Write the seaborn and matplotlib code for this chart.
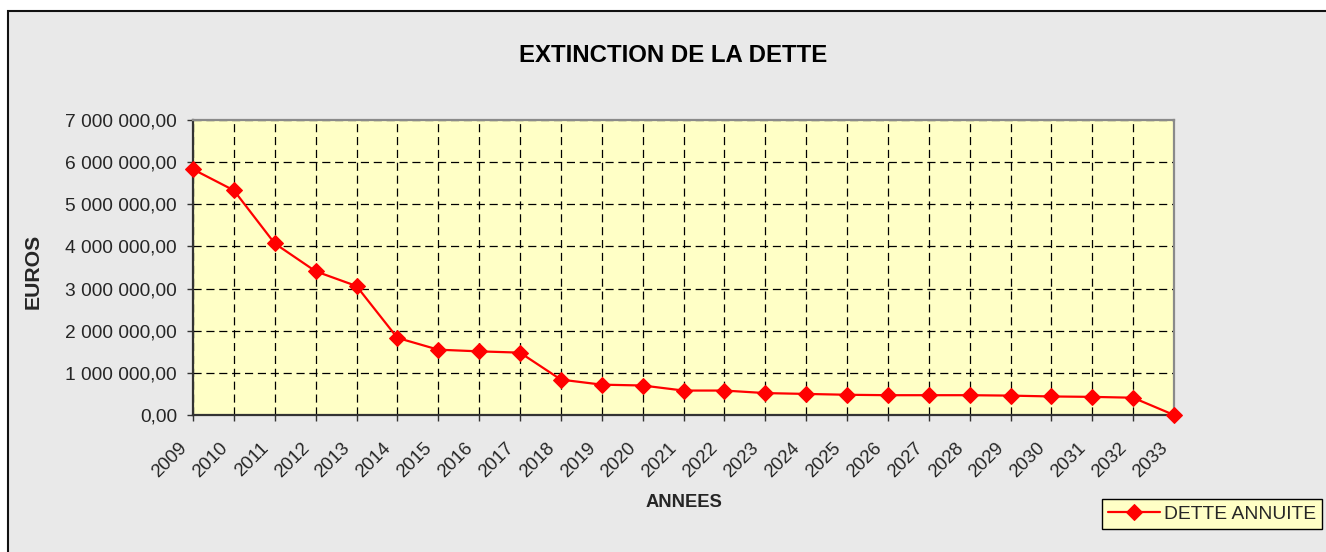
import numpy as np
import pandas as pd
import matplotlib
matplotlib.use("Agg")
import matplotlib.pyplot as plt
from matplotlib.ticker import FuncFormatter, MultipleLocator
from matplotlib.patches import Rectangle
from matplotlib.transforms import ScaledTranslation
import seaborn as sns

# ---- data ----
years = list(range(2009, 2034))
dette = [5830000, 5330000, 4070000, 3410000, 3060000, 1830000, 1550000, 1510000,
         1480000, 840000, 720000, 700000, 580000, 580000, 520000, 500000, 480000,
         470000, 470000, 470000, 460000, 440000, 430000, 410000, 0]
series_name = "DETTE ANNUITE"
title = "EXTINCTION DE LA DETTE"
xlabel = "ANNEES"
ylabel = "EUROS"

df = pd.DataFrame({"annee": years, "valeur": dette})

sns.set_theme(style="white")
plt.rcParams["font.family"] = ["Liberation Sans", "DejaVu Sans"]

W, H = 1326, 552
fig = plt.figure(figsize=(W / 100, H / 100), dpi=100)
fig.patch.set_facecolor("white")

# chart area background with black frame
bg = Rectangle((8 / W, -0.05), 1.2, 1 - 11 / H + 0.05, transform=fig.transFigure,
               facecolor="#E9E9E9", edgecolor="#111111", linewidth=1.5, zorder=-10)
fig.patches.append(bg)

left, right = 193 / W, 1174 / W
bottom, top = 1 - 415 / H, 1 - 120 / H
ax = fig.add_axes([left, bottom, right - left, top - bottom])
ax.set_facecolor("#FFFFC6")

sns.lineplot(data=df, x="annee", y="valeur", ax=ax, color="#FF0000", linewidth=1.6,
             marker="D", markersize=8, markeredgecolor="#FF0000", label=series_name,
             clip_on=False, zorder=5)

ax.set_xlim(2009, 2033)
ax.set_ylim(0, 7000000)
ax.set_xticks(years)
ax.set_xticklabels([str(y) for y in years], rotation=45, ha="right",
                   rotation_mode="anchor", fontsize=13.4)
ax.yaxis.set_major_locator(MultipleLocator(1000000))

def fmt(v, pos):
    return f"{v:,.2f}".replace(",", " ").replace(".", ",")

ax.yaxis.set_major_formatter(FuncFormatter(fmt))
ax.tick_params(axis="y", labelsize=13.8, length=4.5, width=1, color="#333333",
               direction="out", left=True, pad=7)
ax.tick_params(axis="x", labelsize=13.4, length=4.5, width=1, color="#333333",
               direction="out", bottom=True, pad=13)
shift = ScaledTranslation(-15 / 100, 0, fig.dpi_scale_trans)
for lab in ax.get_xticklabels():
    lab.set_transform(lab.get_transform() + shift)

ax.grid(True, which="major", axis="both", color="black", linestyle=(0, (6.5, 3.8)),
        linewidth=0.9)
ax.set_axisbelow(True)

for s in ["left", "bottom"]:
    ax.spines[s].set_color("#333333")
    ax.spines[s].set_linewidth(1.6)
for s in ["top", "right"]:
    ax.spines[s].set_color("#8a8a8a")
    ax.spines[s].set_linewidth(1.6)
    ax.spines[s].set_visible(True)

ax.set_xlabel(xlabel, fontsize=13.2, fontweight="bold")
ax.set_ylabel(ylabel, fontsize=15.3, fontweight="bold")
ax.xaxis.set_label_coords((684 / W - left) / (right - left), (1 - 494 / H - bottom) / (top - bottom))
ax.yaxis.set_label_coords((43 / W - left) / (right - left), (1 - 271.5 / H - bottom) / (top - bottom))

fig.text(673 / W, 1 - 55 / H, title, ha="center", va="center", fontsize=17.3,
         fontweight="bold", color="black")

ax.get_legend().remove()
leg = fig.legend(loc="upper right", bbox_to_anchor=(1322 / W, 1 - 499 / H),
                 bbox_transform=fig.transFigure, fontsize=13.9, frameon=True,
                 fancybox=False, framealpha=1, edgecolor="black",
                 facecolor="#FFFFC6", borderpad=0.32, handlelength=2.7,
                 handletextpad=0.2, borderaxespad=0)
leg.get_frame().set_linewidth(1.0)

fig.savefig("out.png", dpi=100, facecolor=fig.get_facecolor())
